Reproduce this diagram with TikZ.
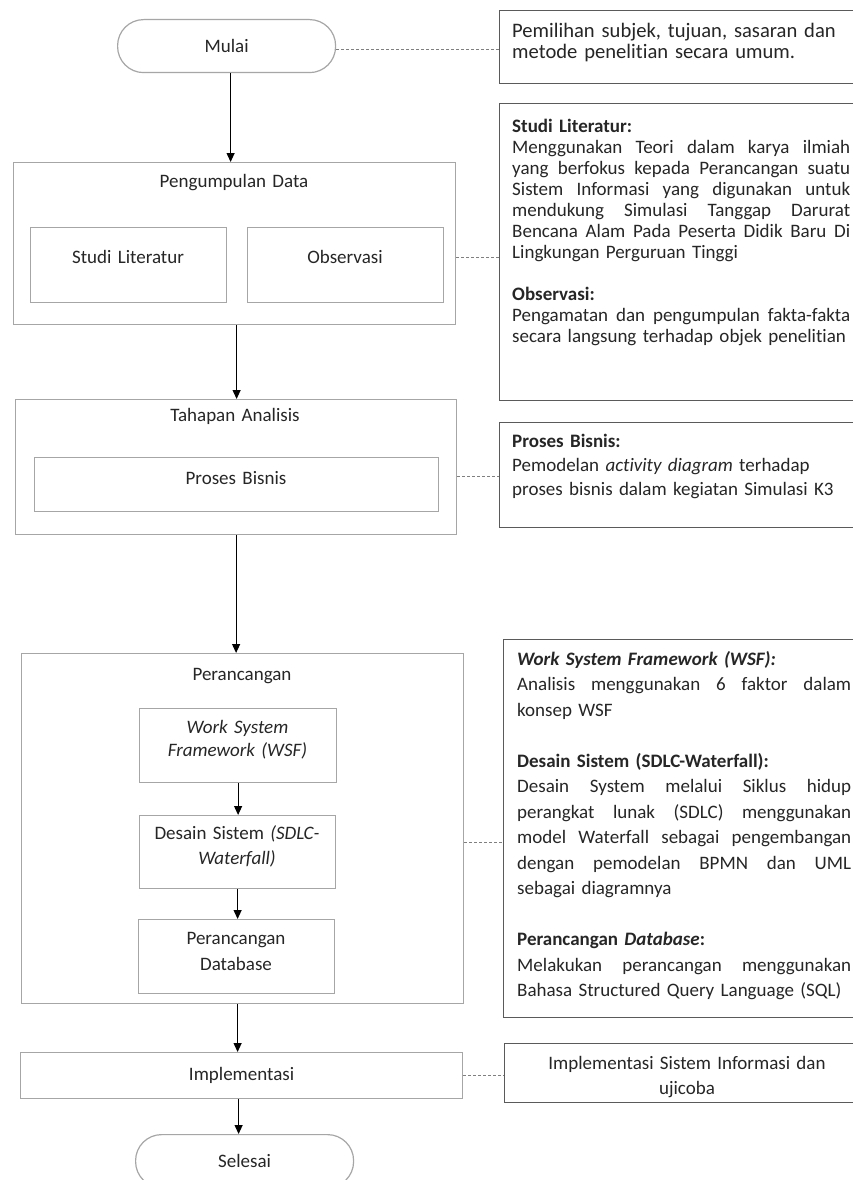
\documentclass[tikz,border=0pt]{standalone}
\usepackage{fontspec}
\setmainfont{Carlito}[Ligatures={NoCommon}]
\usetikzlibrary{arrows.meta}
\definecolor{boxgray}{HTML}{A6A6A6}
\definecolor{notegray}{HTML}{5A5A5A}
\definecolor{dashgray}{HTML}{7F7F7F}
\definecolor{txt}{HTML}{262626}
\newcommand\justline[2]{\makebox[#1pt][s]{\spaceskip=0.23em plus 1fil\relax #2}}
\begin{document}
\begin{tikzpicture}[x=1pt,y=-1pt,
  lbox/.style={draw=boxgray, line width=1.2pt, inner sep=0pt, anchor=north west},
  term/.style={lbox, rounded corners=26pt, text=txt, font=\fontsize{19}{23}\selectfont},
  notebox/.style={draw=notegray, line width=1.4pt, inner sep=0pt, anchor=north west},
  ltxt/.style={font=\fontsize{19}{24}\selectfont, text=txt, align=center, text width=200pt, anchor=base, inner sep=0pt},
  ntxt/.style={font=\fontsize{19}{21}\selectfont, text=txt, align=left, anchor=base west, inner sep=0pt},
  arr/.style={draw=black, line width=1.1pt, -{Triangle[length=9pt,width=8pt]}},
  dline/.style={draw=dashgray, line width=1pt, dash pattern=on 3pt off 2pt}]
\useasboundingbox (0,0) rectangle (853,1180);
\fill[white] (0,0) rectangle (853,1180);
\clip (0,0) rectangle (853,1180);

% ---------- left column ----------
\node[term, minimum width=218pt, minimum height=53pt] (mulai) at (117,19) {Mulai};

\node[lbox, minimum width=442pt, minimum height=162pt] (pd) at (13,162) {};
\node[ltxt] (pdT) at (234,187) {Pengumpulan Data};
\node[lbox, minimum width=196pt, minimum height=75pt] (sl) at (30,227) {};
\node[ltxt] (slT) at (128,263) {Studi Literatur};
\node[lbox, minimum width=196pt, minimum height=75pt] (ob) at (247,227) {};
\node[ltxt] (obT) at (345,263) {Observasi};

\node[lbox, minimum width=441pt, minimum height=135pt] (ta) at (15,399) {};
\node[ltxt] (taT) at (235,421) {Tahapan Analisis};
\node[lbox, minimum width=404pt, minimum height=54pt] (pb) at (34,457) {};
\node[ltxt] (pbT) at (236,484) {Proses Bisnis};

\node[lbox, minimum width=442pt, minimum height=350pt] (pr) at (21,653) {};
\node[ltxt] (prT) at (242,680) {Perancangan};
\node[lbox, minimum width=197pt, minimum height=74pt] (wsf) at (139,708) {};
\node[ltxt, font=\fontsize{19}{23}\selectfont] (wsfT) at (237.5,733) {\textit{Work System}\\\textit{Framework (WSF)}};
\node[lbox, minimum width=196pt, minimum height=73pt] (ds) at (139,815) {};
\node[ltxt, font=\fontsize{19}{25}\selectfont] (dsT) at (237,839) {Desain Sistem \textit{(SDLC-}\\\textit{Waterfall)}};
\node[lbox, minimum width=196pt, minimum height=74pt] (db) at (138,919) {};
\node[ltxt, font=\fontsize{19}{26}\selectfont] (dbT) at (236,944) {Perancangan\\Database};

\node[lbox, minimum width=442pt, minimum height=46pt, text=txt, font=\fontsize{19}{23}\selectfont] (impl) at (20,1052) {Implementasi};

\node[term, minimum width=218pt, minimum height=53pt] (sel) at (135,1134) {Selesai};

% ---------- arrows ----------
\draw[arr] ([xshift=4pt]mulai.south) -- ([xshift=4pt]mulai.south |- pd.north);
\draw[arr] ([xshift=2pt]pd.south) -- ([xshift=2pt]pd.south |- ta.north);
\draw[arr] (ta.south) -- (ta.south |- pr.north);
\draw[arr] (wsf.south) -- (wsf.south |- ds.north);
\draw[arr] (ds.south) -- (ds.south |- db.north);
\draw[arr] ([xshift=-5pt]pr.south) -- ([xshift=-5pt]pr.south |- impl.north);
\draw[arr] ([xshift=-3pt]impl.south) -- ([xshift=-3pt]impl.south |- sel.north);

% ---------- notes ----------
\node[notebox, minimum width=360pt, minimum height=73pt] (n1) at (499,10) {};
\node[ntxt, text width=335pt, font=\fontsize{20.6}{20.6}\selectfont] (n1T) at (512,38) {Pemilihan subjek, tujuan, sasaran dan\\metode penelitian secara umum.};

\node[notebox, minimum width=360pt, minimum height=297pt] (n2) at (499,103) {};
\node[ntxt, text width=339pt] (n2T) at (512,132) {\textbf{Studi Literatur:}\\
\justline{338}{Menggunakan Teori dalam karya ilmiah}\\
\justline{338}{yang berfokus kepada Perancangan suatu}\\
\justline{338}{Sistem Informasi yang digunakan untuk}\\
\justline{338}{mendukung Simulasi Tanggap Darurat}\\
\justline{338}{Bencana Alam Pada Peserta Didik Baru Di}\\
Lingkungan Perguruan Tinggi\\[21pt]
\textbf{Observasi:}\\
\justline{338}{Pengamatan dan pengumpulan fakta-fakta}\\
secara langsung terhadap objek penelitian};

\node[notebox, minimum width=360pt, minimum height=105pt] (n3) at (499,422) {};
\node[ntxt, text width=335pt, font=\fontsize{19}{24}\selectfont] (n3T) at (512,447) {\textbf{Proses Bisnis:}\\
Pemodelan \textit{activity diagram} terhadap\\
proses bisnis dalam kegiatan Simulasi K3};

\node[notebox, minimum width=360pt, minimum height=378pt] (n4) at (503,639) {};
\node[ntxt, text width=335pt, font=\fontsize{19}{25.5}\selectfont] (n4T) at (517,665) {\textbf{\textit{Work System Framework (WSF):}}\\
\justline{334}{Analisis menggunakan 6 faktor dalam}\\
konsep WSF\\[25.5pt]
\textbf{Desain Sistem (SDLC-Waterfall):}\\
\justline{334}{Desain System melalui Siklus hidup}\\
\justline{334}{perangkat lunak (SDLC) menggunakan}\\
\justline{334}{model Waterfall sebagai pengembangan}\\
\justline{334}{dengan pemodelan BPMN dan UML}\\
sebagai diagramnya\\[25.5pt]
\textbf{Perancangan \textit{Database}:}\\
\justline{334}{Melakukan perancangan menggunakan}\\
Bahasa Structured Query Language (SQL)};

\node[notebox, minimum width=360pt, minimum height=59pt] (n5) at (504,1043) {};
\node[ltxt, text width=330pt, font=\fontsize{19}{25}\selectfont] (n5T) at (687,1069) {Implementasi Sistem Informasi dan\\ujicoba};

% ---------- dashed links ----------
\draw[dline] ([yshift=-3.5pt]mulai.east) -- ([yshift=-3.5pt]mulai.east -| n1.west);
\draw[dline] ([yshift=-14pt]pd.east) -- ([yshift=-14pt]pd.east -| n2.west);
\draw[dline] ([yshift=-9.5pt]ta.east) -- ([yshift=-9.5pt]ta.east -| n3.west);
\draw[dline] ([yshift=-14pt]pr.east) -- ([yshift=-14pt]pr.east -| n4.west);
\draw[dline] (impl.east) -- (impl.east -| n5.west);
\end{tikzpicture}
\end{document}
